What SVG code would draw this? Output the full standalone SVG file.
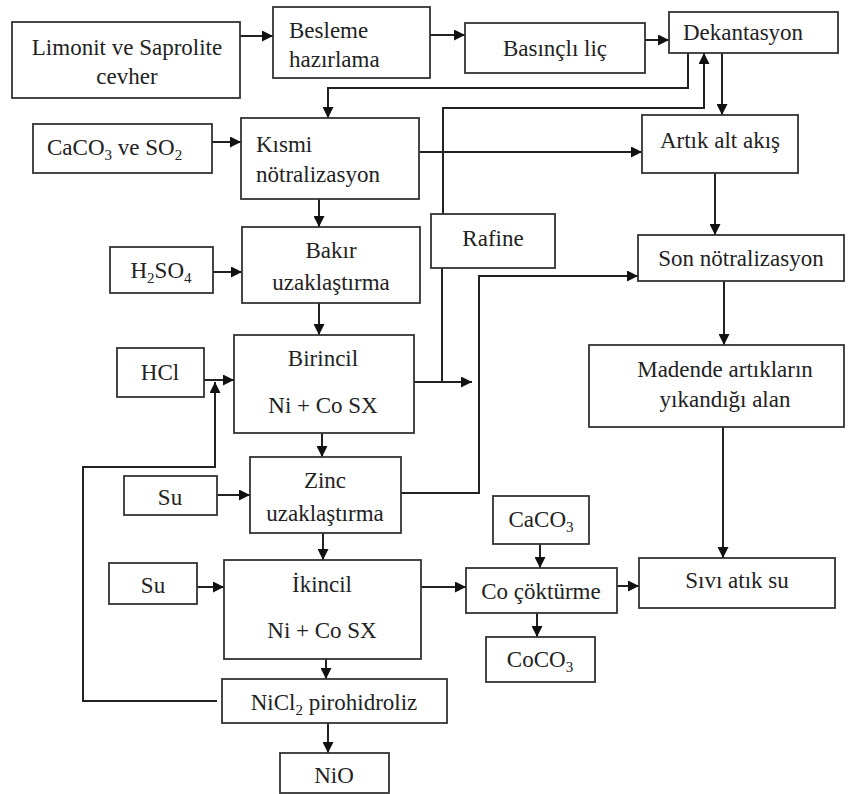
<svg xmlns="http://www.w3.org/2000/svg" width="850" height="794" viewBox="0 0 850 794">
<defs>
<style>
.box{fill:#fff;stroke:#333;stroke-width:1.8}
.t{font-family:'Liberation Serif','DejaVu Serif',serif;font-size:23px;fill:#222}
.m{text-anchor:middle}
.sub{font-size:15px}
.c path{fill:none;stroke:#222;stroke-width:2}
</style>
<marker id="ah" viewBox="0 0 10 10" refX="10" refY="5" markerWidth="12" markerHeight="11" orient="auto" markerUnits="userSpaceOnUse"><path d="M0,0 L10,5 L0,10 z" fill="#111"/></marker>
</defs>
<rect width="850" height="794" fill="#fff"/>

<g class="c">
<path d="M240,36 H273" marker-end="url(#ah)"/>
<path d="M430,35 H465" marker-end="url(#ah)"/>
<path d="M645,40 H669" marker-end="url(#ah)"/>
<path d="M688,53 V88 H328 V118" marker-end="url(#ah)"/>
<path d="M443,214 V108 H704 V53" marker-end="url(#ah)"/>
<path d="M722,53 V115" marker-end="url(#ah)"/>
<path d="M212,142 H241" marker-end="url(#ah)"/>
<path d="M419,152 H642" marker-end="url(#ah)"/>
<path d="M319,199 V227" marker-end="url(#ah)"/>
<path d="M213,272 H242" marker-end="url(#ah)"/>
<path d="M715,173 V235" marker-end="url(#ah)"/>
<path d="M319,303 V335" marker-end="url(#ah)"/>
<path d="M204,380 H234" marker-end="url(#ah)"/>
<path d="M724,281 V345" marker-end="url(#ah)"/>
<path d="M414,382 H472" marker-end="url(#ah)"/>
<path d="M442,268 V382"/>
<path d="M401,493 H479 V276 H638" marker-end="url(#ah)"/>
<path d="M322,433 V457" marker-end="url(#ah)"/>
<path d="M217,495 H250" marker-end="url(#ah)"/>
<path d="M723,427 V558" marker-end="url(#ah)"/>
<path d="M323,533 V560" marker-end="url(#ah)"/>
<path d="M197,587 H224" marker-end="url(#ah)"/>
<path d="M540,544 V568" marker-end="url(#ah)"/>
<path d="M421,587 H466" marker-end="url(#ah)"/>
<path d="M617,586 H639" marker-end="url(#ah)"/>
<path d="M537,613 V637" marker-end="url(#ah)"/>
<path d="M326,659 V679" marker-end="url(#ah)"/>
<path d="M217,701 H83 V467 H215 V382" marker-end="url(#ah)"/>
<path d="M328,723 V753" marker-end="url(#ah)"/>
</g>

<g id="limonit"><rect class="box" x="12" y="22" width="228" height="76"/>
<text class="t m" x="127" y="55">Limonit ve Saprolite</text><text class="t m" x="127" y="84">cevher</text></g>
<g id="besleme"><rect class="box" x="273" y="7" width="157" height="71"/>
<text class="t" x="289" y="38">Besleme</text><text class="t" x="289" y="67">hazırlama</text></g>
<g id="basincli"><rect class="box" x="465" y="23" width="180" height="50"/>
<text class="t m" x="555" y="56">Basınçlı liç</text></g>
<g id="dekantasyon"><rect class="box" x="669" y="12" width="169" height="41"/>
<text class="t" x="683" y="40">Dekantasyon</text></g>
<g id="caco3so2"><rect class="box" x="33" y="124" width="179" height="49"/>
<text class="t" x="47" y="155">CaCO<tspan class="sub" dy="5">3</tspan><tspan dy="-5"> ve SO</tspan><tspan class="sub" dy="5">2</tspan></text></g>
<g id="kismi"><rect class="box" x="241" y="118" width="178" height="81"/>
<text class="t" x="256" y="152">Kısmi</text><text class="t" x="256" y="182">nötralizasyon</text></g>
<g id="artik"><rect class="box" x="642" y="115" width="156" height="58"/>
<text class="t m" x="720" y="148">Artık alt akış</text></g>
<g id="h2so4"><rect class="box" x="110" y="247" width="103" height="46"/>
<text class="t m" x="161" y="278">H<tspan class="sub" dy="5">2</tspan><tspan dy="-5">SO</tspan><tspan class="sub" dy="5">4</tspan></text></g>
<g id="bakir"><rect class="box" x="242" y="227" width="178" height="76"/>
<text class="t m" x="331" y="258">Bakır</text><text class="t m" x="331" y="290">uzaklaştırma</text></g>
<g id="rafine"><rect class="box" x="431" y="214" width="124" height="54"/>
<text class="t m" x="493" y="246">Rafine</text></g>
<g id="son"><rect class="box" x="638" y="235" width="206" height="46"/>
<text class="t m" x="741" y="266">Son nötralizasyon</text></g>
<g id="hcl"><rect class="box" x="117" y="348" width="87" height="49"/>
<text class="t m" x="160" y="380">HCl</text></g>
<g id="birincil"><rect class="box" x="234" y="335" width="180" height="98"/>
<text class="t m" x="323" y="366">Birincil</text><text class="t m" x="323" y="413">Ni + Co SX</text></g>
<g id="madende"><rect class="box" x="589" y="345" width="255" height="82"/>
<text class="t m" x="725" y="377">Madende artıkların</text><text class="t m" x="725" y="407">yıkandığı  alan</text></g>
<g id="su1"><rect class="box" x="124" y="476" width="93" height="39"/>
<text class="t m" x="170" y="505">Su</text></g>
<g id="zinc"><rect class="box" x="250" y="457" width="151" height="76"/>
<text class="t m" x="325" y="488">Zinc</text><text class="t m" x="325" y="521">uzaklaştırma</text></g>
<g id="caco3"><rect class="box" x="493" y="496" width="96" height="48"/>
<text class="t m" x="541" y="527">CaCO<tspan class="sub" dy="5">3</tspan></text></g>
<g id="su2"><rect class="box" x="109" y="563" width="88" height="41"/>
<text class="t m" x="153" y="593">Su</text></g>
<g id="ikincil"><rect class="box" x="224" y="560" width="197" height="99"/>
<text class="t m" x="322" y="592">İkincil</text><text class="t m" x="322" y="638">Ni + Co SX</text></g>
<g id="co"><rect class="box" x="466" y="568" width="151" height="45"/>
<text class="t m" x="541" y="599">Co çöktürme</text></g>
<g id="sivi"><rect class="box" x="639" y="558" width="196" height="50"/>
<text class="t m" x="737" y="588">Sıvı atık su</text></g>
<g id="coco3"><rect class="box" x="486" y="637" width="109" height="45"/>
<text class="t m" x="540" y="667">CoCO<tspan class="sub" dy="5">3</tspan></text></g>
<g id="nicl2"><rect class="box" x="222" y="679" width="225" height="44"/>
<text class="t m" x="334" y="710">NiCl<tspan class="sub" dy="5">2</tspan><tspan dy="-5"> pirohidroliz</tspan></text></g>
<g id="nio"><rect class="box" x="280" y="753" width="109" height="40"/>
<text class="t m" x="334" y="783">NiO</text></g>
</svg>
